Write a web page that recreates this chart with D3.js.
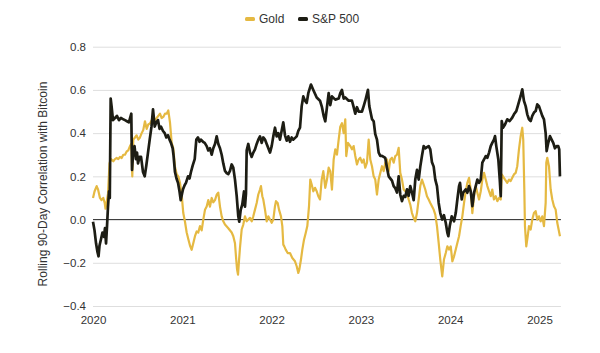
<!DOCTYPE html>
<html>
<head>
<meta charset="utf-8">
<script src="https://cdn.jsdelivr.net/npm/d3@7"></script>
<style>
  body { margin: 0; background: #fff; }
  svg text { font-family: "Liberation Sans", Arial, sans-serif; fill: #333; }
</style>
</head>
<body>
<script>
// rolling 90-day correlation with bitcoin
// each point is [years since 2020, correlation]
const BASE_YEAR = 2020;
const xTicks = [2020, 2021, 2022, 2023, 2024, 2025];
const yTicks = [-0.4, -0.2, 0, 0.2, 0.4, 0.6, 0.8];
const seriesNames = ["Gold", "S&P 500"];

const gold = [
  [0.000,0.10],[0.017,0.13],[0.041,0.155],[0.056,0.14],[0.078,0.10],[0.095,0.09],[0.115,0.10],[0.131,0.077],
  [0.140,0.05],[0.153,0.08],[0.168,0.12],[0.185,0.26],[0.201,0.28],[0.227,0.27],[0.246,0.28],[0.265,0.285],
  [0.283,0.28],[0.302,0.29],[0.321,0.285],[0.339,0.30],[0.358,0.30],[0.377,0.315],[0.395,0.32],[0.414,0.34],
  [0.429,0.35],[0.440,0.20],[0.451,0.37],[0.470,0.38],[0.489,0.39],[0.507,0.37],[0.526,0.38],[0.545,0.40],
  [0.563,0.415],[0.582,0.455],[0.601,0.42],[0.619,0.44],[0.638,0.445],[0.657,0.46],[0.675,0.475],[0.694,0.46],
  [0.713,0.47],[0.731,0.48],[0.750,0.49],[0.769,0.47],[0.787,0.475],[0.806,0.49],[0.825,0.49],[0.843,0.505],
  [0.862,0.45],[0.881,0.355],[0.899,0.33],[0.918,0.245],[0.937,0.21],[0.955,0.20],[0.974,0.17],[0.993,0.115],
  [1.011,0.03],[1.030,-0.01],[1.049,-0.06],[1.067,-0.09],[1.086,-0.12],[1.105,-0.14],[1.123,-0.11],[1.142,-0.077],
  [1.161,-0.055],[1.179,-0.06],[1.198,-0.03],[1.217,-0.05],[1.235,0.0],[1.254,0.045],[1.273,0.06],[1.291,0.09],
  [1.310,0.06],[1.329,0.10],[1.347,0.08],[1.366,0.09],[1.385,0.115],[1.403,0.125],[1.422,0.06],[1.441,0.015],
  [1.459,-0.008],[1.478,-0.023],[1.515,-0.04],[1.553,-0.06],[1.571,-0.077],[1.590,-0.11],[1.601,-0.17],[1.613,-0.23],
  [1.624,-0.255],[1.635,-0.19],[1.646,-0.13],[1.665,-0.046],[1.683,-0.023],[1.702,0.015],[1.721,-0.008],[1.739,0.0],
  [1.758,0.008],[1.777,-0.008],[1.795,0.015],[1.814,0.046],[1.833,0.077],[1.851,0.116],[1.870,0.139],[1.881,0.155],
  [1.896,0.108],[1.907,0.093],[1.926,0.046],[1.945,-0.008],[1.963,0.015],[1.982,0.0],[2.001,-0.015],[2.019,0.0],
  [2.038,0.062],[2.049,0.085],[2.068,0.077],[2.083,0.046],[2.105,0.015],[2.120,-0.03],[2.131,-0.116],[2.142,-0.124],
  [2.158,-0.139],[2.180,-0.155],[2.206,-0.155],[2.232,-0.178],[2.262,-0.193],[2.281,-0.216],[2.299,-0.247],[2.310,-0.232],
  [2.329,-0.185],[2.344,-0.139],[2.363,-0.093],[2.382,-0.062],[2.400,-0.03],[2.419,0.062],[2.433,0.185],[2.449,0.162],
  [2.467,0.131],[2.486,0.147],[2.505,0.131],[2.523,0.108],[2.542,0.093],[2.561,0.185],[2.579,0.224],[2.601,0.147],
  [2.620,0.185],[2.639,0.24],[2.657,0.224],[2.676,0.139],[2.695,0.278],[2.713,0.325],[2.732,0.30],[2.751,0.37],
  [2.769,0.43],[2.788,0.446],[2.807,0.40],[2.825,0.464],[2.836,0.294],[2.855,0.355],[2.881,0.34],[2.900,0.325],
  [2.919,0.34],[2.937,0.294],[2.956,0.255],[2.975,0.278],[2.993,0.286],[3.012,0.263],[3.031,0.278],[3.049,0.24],
  [3.068,0.263],[3.087,0.37],[3.105,0.278],[3.124,0.247],[3.143,0.20],[3.161,0.185],[3.180,0.116],[3.199,0.185],
  [3.217,0.216],[3.236,0.247],[3.255,0.224],[3.273,0.263],[3.292,0.278],[3.311,0.224],[3.329,0.278],[3.348,0.286],
  [3.367,0.263],[3.385,0.294],[3.404,0.30],[3.423,0.332],[3.441,0.216],[3.460,0.185],[3.479,0.139],[3.497,0.131],
  [3.516,0.124],[3.535,0.093],[3.553,0.069],[3.572,0.03],[3.591,0.008],[3.609,-0.008],[3.628,0.03],[3.647,0.093],
  [3.665,0.155],[3.684,0.185],[3.703,0.162],[3.721,0.139],[3.740,0.108],[3.759,0.093],[3.777,0.077],[3.796,0.062],
  [3.815,0.046],[3.833,0.023],[3.852,-0.03],[3.871,-0.108],[3.889,-0.185],[3.911,-0.263],[3.930,-0.185],[3.950,-0.155],
  [3.968,-0.124],[3.987,-0.139],[4.006,-0.124],[4.024,-0.193],[4.043,-0.17],[4.062,-0.139],[4.080,-0.108],[4.099,-0.077],
  [4.117,-0.03],[4.136,0.015],[4.155,0.077],[4.174,0.131],[4.192,0.17],[4.211,0.193],[4.230,0.139],[4.248,0.03],
  [4.267,0.108],[4.286,0.155],[4.304,0.124],[4.323,0.093],[4.342,0.131],[4.360,0.185],[4.379,0.216],[4.398,0.185],
  [4.416,0.155],[4.435,0.131],[4.454,0.108],[4.471,0.139],[4.490,0.093],[4.510,0.108],[4.528,0.085],[4.547,0.10],
  [4.566,0.093],[4.577,0.209],[4.591,0.20],[4.614,0.185],[4.639,0.17],[4.659,0.185],[4.677,0.178],[4.695,0.193],
  [4.714,0.209],[4.733,0.216],[4.751,0.247],[4.770,0.325],[4.789,0.386],[4.807,0.425],[4.818,0.37],[4.830,0.139],
  [4.837,-0.03],[4.852,-0.124],[4.868,-0.077],[4.882,-0.03],[4.901,-0.046],[4.919,0.0],[4.938,0.03],[4.957,0.039],
  [4.975,0.0],[4.994,0.015],[5.013,-0.008],[5.031,0.015],[5.050,-0.03],[5.069,0.077],[5.076,0.263],[5.087,0.286],
  [5.106,0.247],[5.125,0.139],[5.143,0.093],[5.162,0.062],[5.181,0.046],[5.199,-0.015],[5.218,-0.054],[5.229,-0.077]
];

const spx = [
  [0.000,-0.01],[0.017,-0.05],[0.034,-0.11],[0.050,-0.15],[0.062,-0.17],[0.073,-0.12],[0.090,-0.09],[0.106,-0.06],
  [0.123,-0.08],[0.134,-0.04],[0.146,-0.11],[0.157,-0.03],[0.168,0.06],[0.179,0.13],[0.188,0.10],[0.198,0.56],
  [0.209,0.52],[0.224,0.46],[0.246,0.47],[0.268,0.48],[0.291,0.46],[0.313,0.47],[0.335,0.465],[0.358,0.46],
  [0.380,0.455],[0.402,0.45],[0.429,0.49],[0.437,0.23],[0.448,0.30],[0.465,0.34],[0.481,0.28],[0.493,0.31],
  [0.504,0.26],[0.521,0.29],[0.538,0.29],[0.560,0.22],[0.579,0.20],[0.597,0.25],[0.616,0.31],[0.635,0.37],
  [0.655,0.43],[0.672,0.51],[0.691,0.43],[0.709,0.45],[0.728,0.46],[0.745,0.42],[0.761,0.43],[0.784,0.41],
  [0.803,0.40],[0.821,0.38],[0.840,0.39],[0.857,0.37],[0.873,0.355],[0.892,0.33],[0.901,0.30],[0.918,0.22],
  [0.935,0.19],[0.952,0.17],[0.969,0.13],[0.982,0.09],[0.997,0.12],[1.008,0.14],[1.027,0.16],[1.041,0.17],
  [1.064,0.20],[1.081,0.19],[1.097,0.22],[1.116,0.25],[1.139,0.28],[1.157,0.37],[1.176,0.38],[1.193,0.36],
  [1.209,0.37],[1.232,0.36],[1.251,0.355],[1.273,0.34],[1.291,0.32],[1.310,0.33],[1.329,0.30],[1.347,0.33],
  [1.366,0.35],[1.385,0.385],[1.403,0.35],[1.422,0.33],[1.441,0.30],[1.459,0.26],[1.478,0.225],[1.497,0.215],
  [1.515,0.21],[1.534,0.225],[1.553,0.255],[1.571,0.24],[1.590,0.185],[1.609,0.11],[1.627,0.015],[1.638,-0.01],
  [1.654,0.045],[1.672,0.07],[1.691,0.13],[1.702,0.06],[1.713,0.12],[1.721,0.32],[1.739,0.35],[1.758,0.31],
  [1.777,0.29],[1.795,0.31],[1.814,0.325],[1.833,0.35],[1.851,0.37],[1.870,0.385],[1.889,0.355],[1.907,0.38],
  [1.926,0.37],[1.945,0.35],[1.982,0.31],[2.001,0.34],[2.019,0.385],[2.038,0.425],[2.057,0.385],[2.075,0.40],
  [2.094,0.37],[2.131,0.45],[2.150,0.39],[2.169,0.365],[2.187,0.385],[2.206,0.36],[2.225,0.38],[2.243,0.37],
  [2.281,0.385],[2.299,0.41],[2.318,0.425],[2.337,0.525],[2.355,0.57],[2.374,0.55],[2.393,0.54],[2.411,0.585],
  [2.441,0.625],[2.467,0.60],[2.505,0.565],[2.542,0.55],[2.564,0.52],[2.583,0.48],[2.601,0.455],[2.620,0.52],
  [2.639,0.585],[2.657,0.53],[2.676,0.57],[2.713,0.555],[2.751,0.56],[2.769,0.585],[2.788,0.60],[2.807,0.56],
  [2.825,0.565],[2.863,0.55],[2.900,0.55],[2.919,0.52],[2.937,0.49],[2.956,0.52],[2.975,0.50],[3.012,0.50],
  [3.031,0.525],[3.049,0.55],[3.079,0.60],[3.094,0.525],[3.124,0.465],[3.143,0.455],[3.161,0.395],[3.180,0.37],
  [3.199,0.31],[3.217,0.295],[3.236,0.295],[3.273,0.285],[3.292,0.24],[3.311,0.20],[3.348,0.18],[3.367,0.155],
  [3.385,0.145],[3.404,0.125],[3.423,0.20],[3.441,0.115],[3.460,0.085],[3.479,0.11],[3.497,0.105],[3.516,0.14],
  [3.535,0.11],[3.553,0.155],[3.572,0.125],[3.591,0.09],[3.609,0.185],[3.628,0.23],[3.647,0.185],[3.665,0.245],
  [3.684,0.295],[3.703,0.34],[3.721,0.33],[3.740,0.335],[3.759,0.34],[3.777,0.325],[3.796,0.265],[3.815,0.245],
  [3.833,0.185],[3.852,0.155],[3.871,0.077],[3.889,0.03],[3.911,0.0],[3.930,0.02],[3.950,-0.015],[3.968,-0.06],
  [3.979,-0.077],[3.995,-0.03],[4.017,0.015],[4.043,-0.008],[4.062,0.03],[4.080,0.093],[4.099,0.155],[4.110,0.17],
  [4.129,0.093],[4.144,0.124],[4.174,0.14],[4.192,0.124],[4.211,0.155],[4.230,0.13],[4.248,0.062],[4.267,0.124],
  [4.286,0.155],[4.304,0.185],[4.323,0.17],[4.342,0.185],[4.360,0.263],[4.379,0.278],[4.398,0.294],[4.416,0.286],
  [4.435,0.31],[4.454,0.34],[4.471,0.355],[4.490,0.37],[4.502,0.386],[4.516,0.34],[4.539,0.278],[4.555,0.185],
  [4.566,0.108],[4.577,0.456],[4.591,0.425],[4.614,0.44],[4.639,0.464],[4.666,0.456],[4.695,0.472],[4.714,0.487],
  [4.740,0.502],[4.762,0.533],[4.789,0.572],[4.807,0.603],[4.826,0.549],[4.845,0.525],[4.863,0.487],[4.882,0.464],
  [4.901,0.456],[4.919,0.48],[4.938,0.495],[4.957,0.502],[4.975,0.533],[4.994,0.525],[5.013,0.502],[5.031,0.48],
  [5.050,0.464],[5.069,0.40],[5.080,0.317],[5.098,0.355],[5.117,0.386],[5.136,0.37],[5.154,0.355],[5.173,0.33],
  [5.192,0.34],[5.210,0.34],[5.221,0.325],[5.229,0.20]
];

const colors = { "Gold": "#e5b942", "S&P 500": "#1d1d14" };

(function(){
  const W = 600, H = 353;
  const svg = d3.select("body").append("svg")
    .attr("width", W).attr("height", H);

  const x = d3.scaleLinear()
    .domain([2020, 2025.24])
    .range([93, 93 + 5.24 * 89.3]);
  const y = d3.scaleLinear()
    .domain([-0.4, 0.8])
    .range([306, 46.7]);

  // gridlines + y labels
  const yAxis = d3.axisLeft(y)
    .tickValues(yTicks)
    .tickSize(-(x.range()[1] - x.range()[0]))
    .tickPadding(7)
    .tickFormat(d3.format(".1f"));
  const gy = svg.append("g")
    .attr("transform", "translate(" + x.range()[0] + ",0)")
    .call(yAxis);
  gy.select(".domain").remove();
  gy.selectAll(".tick line").attr("stroke", "#dedede").attr("stroke-width", 1);
  gy.selectAll(".tick text").attr("font-size", 11.5).attr("fill", "#333");

  // x labels sit under the bottom gridline
  const xAxis = d3.axisBottom(x)
    .tickValues(xTicks)
    .tickSize(0)
    .tickPadding(10)
    .tickFormat(d3.format("d"));
  const gx = svg.append("g")
    .attr("transform", "translate(0," + y(-0.4) + ")")
    .call(xAxis);
  gx.select(".domain").remove();
  gx.selectAll(".tick text").attr("font-size", 11.5).attr("fill", "#333");

  // zero line
  svg.append("line")
    .attr("x1", x.range()[0]).attr("x2", x.range()[1])
    .attr("y1", y(0)).attr("y2", y(0))
    .attr("stroke", "#333").attr("stroke-width", 1);

  const line = d3.line()
    .x(function(d){ return x(BASE_YEAR + d[0]); })
    .y(function(d){ return y(d[1]); })
    .curve(d3.curveLinear);

  svg.append("path").datum(gold)
    .attr("fill", "none")
    .attr("stroke", colors["Gold"])
    .attr("stroke-width", 2.2)
    .attr("stroke-linejoin", "round")
    .attr("d", line);

  svg.append("path").datum(spx)
    .attr("fill", "none")
    .attr("stroke", colors["S&P 500"])
    .attr("stroke-width", 2.7)
    .attr("stroke-linejoin", "round")
    .attr("d", line);

  // y title
  svg.append("text")
    .attr("transform", "translate(47,184) rotate(-90)")
    .attr("text-anchor", "middle")
    .attr("font-size", 12)
    .attr("fill", "#222")
    .text("Rolling 90-Day Correlation with Bitcoin");

  // legend
  const legendX = [245, 298];
  const lg = svg.append("g").selectAll("g")
    .data(seriesNames).enter().append("g")
    .attr("transform", function(d, i){ return "translate(" + legendX[i] + ",19)"; });
  lg.append("rect")
    .attr("x", 0).attr("y", -2).attr("width", 10).attr("height", 4).attr("rx", 1.5)
    .attr("fill", function(d){ return colors[d]; });
  lg.append("text")
    .attr("x", 14).attr("y", 0).attr("dy", "0.35em")
    .attr("font-size", 12)
    .attr("fill", "#333")
    .text(function(d){ return d; });
})();
</script>
</body>
</html>
